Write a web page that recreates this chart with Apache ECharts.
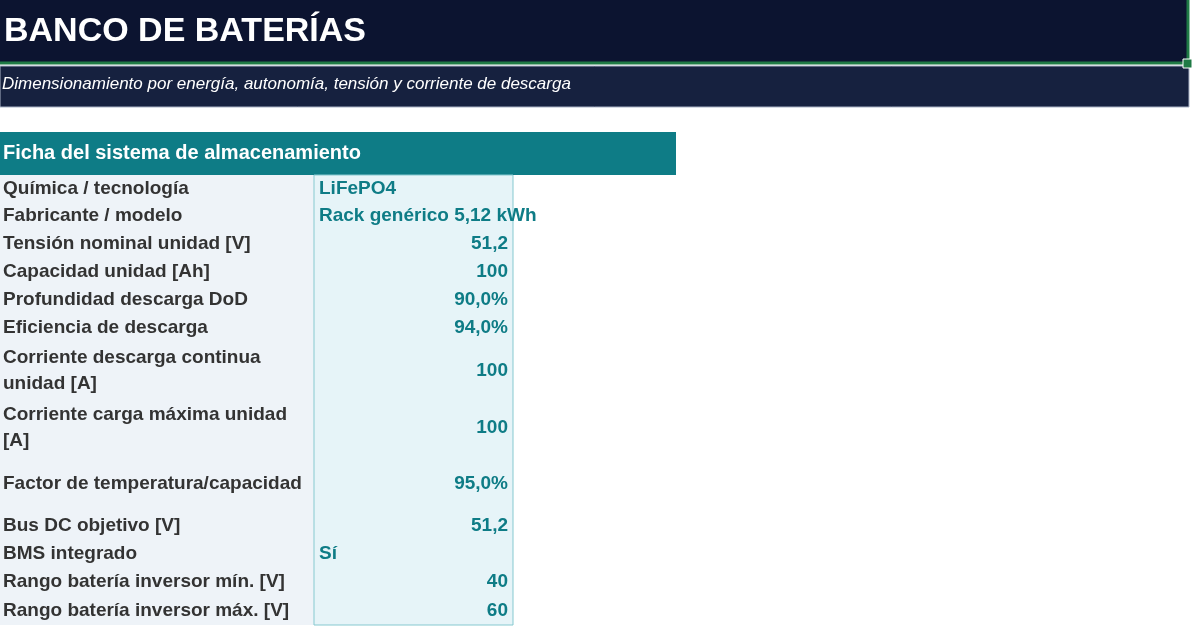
<!DOCTYPE html>
<html><head><meta charset="utf-8">
<script src="https://cdn.jsdelivr.net/npm/echarts@6/dist/echarts.min.js"></script>
<style>html,body{margin:0;padding:0;background:#fff}#c{width:1200px;height:644px}</style>
</head><body><div id="c"></div>
<script>
const title = 'BANCO DE BATERÍAS';
const subtitle = 'Dimensionamiento por energía, autonomía, tensión y corriente de descarga';
const sectionTitle = 'Ficha del sistema de almacenamiento';
const labels = ['Química / tecnología','Fabricante / modelo','Tensión nominal unidad [V]','Capacidad unidad [Ah]','Profundidad descarga DoD','Eficiencia de descarga','Corriente descarga continua\nunidad [A]','Corriente carga máxima unidad\n[A]','Factor de temperatura/capacidad','Bus DC objetivo [V]','BMS integrado','Rango batería inversor mín. [V]','Rango batería inversor máx. [V]'];
const values = ['LiFePO4','Rack genérico 5,12 kWh','51,2','100','90,0%','94,0%','100','100','95,0%','51,2','Sí','40','60'];
const isText = [true,true,false,false,false,false,false,false,false,false,true,false,false];
const rowTops = [175,202,230,258,286,314,342,400,456,512,540,568,596,625];

const F = 'Liberation Sans, Arial, sans-serif';
const g = [];
g.push({type:'rect',shape:{x:0,y:0,width:1188,height:63},style:{fill:'#0c1430'}});
g.push({type:'rect',shape:{x:0,y:66,width:1189,height:41},style:{fill:'#16213f',stroke:'#a9b3c6',lineWidth:1}});
g.push({type:'text',x:4,y:32,style:{text:title,fill:'#fff',font:'bold 34px '+F,textVerticalAlign:'middle'}});
g.push({type:'text',x:2,y:84,style:{text:subtitle,fill:'#fff',font:'italic 17px '+F,textVerticalAlign:'middle'}});
g.push({type:'line',shape:{x1:0,y1:63,x2:1188,y2:63},style:{stroke:'#1f7a45',lineWidth:3}});
g.push({type:'line',shape:{x1:1188,y1:0,x2:1188,y2:63},style:{stroke:'#1f7a45',lineWidth:3}});
g.push({type:'rect',shape:{x:1183,y:59,width:9,height:9},style:{fill:'#1f7a45',stroke:'#fff',lineWidth:1}});
g.push({type:'rect',shape:{x:0,y:132,width:676,height:43},style:{fill:'#0e7c86'}});
g.push({type:'text',x:3,y:153,style:{text:sectionTitle,fill:'#fff',font:'bold 20px '+F,textVerticalAlign:'middle'}});
g.push({type:'rect',shape:{x:0,y:175,width:314,height:450},style:{fill:'#eef3f8'}});
g.push({type:'rect',shape:{x:314,y:175,width:199,height:450},style:{fill:'#e6f4f8',stroke:'#86c9d0',lineWidth:1}});
labels.forEach((l,i)=>{
  const cy=(rowTops[i]+rowTops[i+1])/2;
  g.push({type:'text',x:3,y:cy,style:{text:l,fill:'#333',font:'bold 19px '+F,textVerticalAlign:'middle',lineHeight:26}});
  g.push({type:'text',x:isText[i]?319:508,y:cy,style:{text:values[i],fill:'#0e7c86',font:'bold 19px '+F,textVerticalAlign:'middle',textAlign:isText[i]?'left':'right'}});
});
const ch = echarts.init(document.getElementById('c'));
ch.setOption({animation:false,graphic:g});
</script></body></html>
